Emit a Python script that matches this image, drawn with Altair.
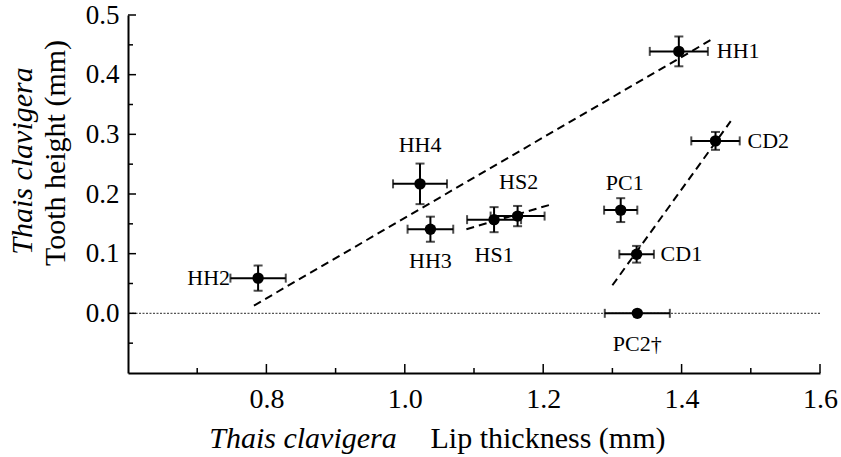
import altair as alt
import pandas as pd

# ---- data ----
names = ["HH1", "CD2", "PC1", "CD1", "HS2", "HS1", "HH4", "HH3", "HH2", "PC2†"]
lip = [1.396, 1.449, 1.312, 1.335, 1.163, 1.129, 1.022, 1.037, 0.788, 1.336]
tooth = [0.439, 0.289, 0.173, 0.099, 0.163, 0.157, 0.217, 0.141, 0.059, 0.000]
lip_err = [0.042, 0.035, 0.024, 0.025, 0.039, 0.039, 0.039, 0.033, 0.040, 0.047]
tooth_err = [0.025, 0.015, 0.020, 0.014, 0.017, 0.021, 0.034, 0.021, 0.021, 0.0]

fit_group = ["HH", "HH", "HS", "HS", "CD", "CD"]
fit_x = [0.782, 1.445, 1.089, 1.210, 1.300, 1.471]
fit_y = [0.013, 0.460, 0.141, 0.182, 0.047, 0.322]

x_major = [0.8, 1.0, 1.2, 1.4, 1.6]
x_minor = [0.7, 0.9, 1.1, 1.3, 1.5]
y_major = [0.0, 0.1, 0.2, 0.3, 0.4, 0.5]
y_minor = [-0.05, 0.05, 0.15, 0.25, 0.35, 0.45]

W, H = 692, 358
FONT = "Liberation Serif"

df = pd.DataFrame({"name": names, "x": lip, "y": tooth, "xe": lip_err, "ye": tooth_err})
df["xlo"] = df.x - df.xe
df["xhi"] = df.x + df.xe
df["ylo"] = df.y - df.ye
df["yhi"] = df.y + df.ye
dfv = df[df.ye > 0]
fits = pd.DataFrame({"g": fit_group, "x": fit_x, "y": fit_y})

xs = alt.Scale(domain=[0.6, 1.6], nice=False, zero=False)
ys = alt.Scale(domain=[-0.1, 0.5], nice=False, zero=False)

axis_common = dict(ticks=False, grid=False, domainColor="black", domainWidth=2,
                   labelFont=FONT, labelColor="black", labelFlush=False,
                   labelOverlap=False, format=".1f", title=None)
X = lambda f: alt.X(f, type="quantitative", scale=xs,
                    axis=alt.Axis(values=x_major, labelFontSize=28, labelPadding=12, **axis_common))
Y = lambda f: alt.Y(f, type="quantitative", scale=ys,
                    axis=alt.Axis(values=y_major, labelFontSize=27, labelPadding=9, **axis_common))

base = alt.Chart(df)

zero = alt.Chart(pd.DataFrame({"y": [0.0]})).mark_rule(
    color="#555", strokeWidth=1.3, strokeDash=[2, 1.5]).encode(y=Y("y"))

fit_lines = alt.Chart(fits).mark_line(color="black", strokeWidth=2, strokeDash=[8, 5]).encode(
    x=X("x"), y=Y("y"), detail="g:N")

hbar = base.mark_rule(color="black", strokeWidth=2).encode(x=X("xlo"), x2="xhi", y=Y("y"))
hcap_l = base.mark_tick(color="black", orient="vertical", size=9, thickness=2).encode(x=X("xlo"), y=Y("y"))
hcap_r = base.mark_tick(color="black", orient="vertical", size=9, thickness=2).encode(x=X("xhi"), y=Y("y"))

vb = alt.Chart(dfv)
vbar = vb.mark_rule(color="black", strokeWidth=2).encode(x=X("x"), y=Y("ylo"), y2="yhi")
vcap_b = vb.mark_tick(color="black", orient="horizontal", size=9, thickness=2).encode(x=X("x"), y=Y("ylo"))
vcap_t = vb.mark_tick(color="black", orient="horizontal", size=9, thickness=2).encode(x=X("x"), y=Y("yhi"))

pts = base.mark_circle(color="black", size=130, opacity=1).encode(x=X("x"), y=Y("y"))

# label offsets (style): name -> (dx, dy, align)
label_style = {
    "HH1": (38, 0, "left"), "CD2": (32, 0, "left"), "CD1": (24, 0, "left"),
    "HH2": (-28, 0, "right"),
    "HH4": (0, -39, "center"), "HS2": (1, -34, "center"), "PC1": (4, -27, "center"),
    "HH3": (0, 32, "center"), "HS1": (0, 35, "center"), "PC2†": (0, 31, "center"),
}
label_layers = []
for nm, (dx, dy, al) in label_style.items():
    label_layers.append(
        alt.Chart(df[df.name == nm]).mark_text(
            font=FONT, fontSize=22, color="black", dx=dx, dy=dy, align=al, baseline="middle"
        ).encode(x=X("x"), y=Y("y"), text="name:N")
    )

# inward axis ticks
xmaj = alt.Chart(pd.DataFrame({"t": x_major})).mark_rule(color="black", strokeWidth=1.5).encode(
    x=X("t"), y=alt.value(H), y2=alt.value(H - 9))
xmin = alt.Chart(pd.DataFrame({"t": x_minor})).mark_rule(color="black", strokeWidth=1.5).encode(
    x=X("t"), y=alt.value(H), y2=alt.value(H - 5))
ymaj = alt.Chart(pd.DataFrame({"t": y_major})).mark_rule(color="black", strokeWidth=1.5).encode(
    y=Y("t"), x=alt.value(0), x2=alt.value(8))
ymin = alt.Chart(pd.DataFrame({"t": y_minor})).mark_rule(color="black", strokeWidth=1.5).encode(
    y=Y("t"), x=alt.value(0), x2=alt.value(5))

# axis titles (mixed italic / roman)
one = pd.DataFrame({"a": [0]})
def title_text(txt, px, py, italic=False, angle=0, baseline="middle"):
    kw = dict(font=FONT, fontSize=30, color="black", align="center", baseline=baseline)
    if italic:
        kw["fontStyle"] = "italic"
    if angle:
        kw["angle"] = angle
    return alt.Chart(one).mark_text(**kw).encode(
        x=alt.value(px), y=alt.value(py), text=alt.value(txt))

titles = [
    title_text("Thais clavigera", -105, 146, italic=True, angle=270),
    title_text("Tooth height (mm)", -72, 138, angle=270),
    title_text("Thais clavigera", 175, 433, italic=True, baseline="alphabetic"),
    title_text("Lip thickness (mm)", 420, 433, baseline="alphabetic"),
]

chart = alt.layer(
    zero, fit_lines, hbar, hcap_l, hcap_r, vbar, vcap_b, vcap_t, pts,
    xmaj, xmin, ymaj, ymin, *label_layers, *titles
).properties(
    width=W, height=H,
    autosize=alt.AutoSizeParams(type="none"),
    padding={"left": 128, "top": 15, "right": 21, "bottom": 84},
    background="white",
).configure_view(stroke=None)

chart.save("out.html", embed_options={"renderer": "svg", "actions": False})
